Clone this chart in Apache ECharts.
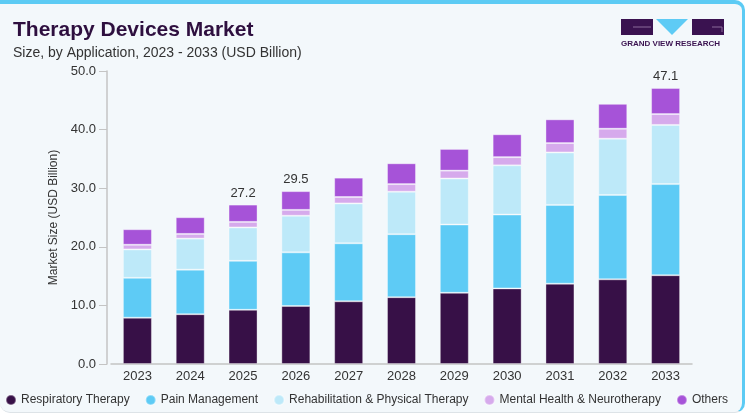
<!DOCTYPE html>
<html>
<head>
<meta charset="utf-8">
<script src="https://cdn.jsdelivr.net/npm/echarts@6/dist/echarts.min.js"></script>
<style>
  html, body { margin: 0; padding: 0; background: #ffffff; }
  .card {
    position: absolute; left: 0; top: 0;
    width: 742px; height: 408px;
    background: #f3f8fb;
    border-top: 4px solid #5ccbf4;
    border-right: 3px solid #5ccbf4;
    border-bottom: 1px solid #dde3e7;
    border-radius: 0 10px 10px 10px;
  }
  #main { position: absolute; left: 0; top: 0; width: 749px; height: 418px; }
</style>
</head>
<body>
<div class="card"></div>
<div id="main"></div>
<script>
// 数据
var years = ['2023', '2024', '2025', '2026', '2027', '2028', '2029', '2030', '2031', '2032', '2033'];
var respiratory = [7.9, 8.5, 9.25, 9.9, 10.7, 11.4, 12.15, 12.9, 13.7, 14.45, 15.15];
var pain = [6.8, 7.6, 8.35, 9.15, 9.9, 10.75, 11.65, 12.6, 13.45, 14.4, 15.55];
var rehab = [4.85, 5.3, 5.7, 6.25, 6.8, 7.25, 7.85, 8.4, 8.95, 9.6, 10.1];
var mental = [0.8, 0.8, 0.95, 1.0, 1.1, 1.3, 1.35, 1.4, 1.6, 1.7, 1.85];
var others = [2.65, 2.85, 2.95, 3.2, 3.3, 3.55, 3.7, 3.9, 4.05, 4.25, 4.45];
var totalLabels = ['', '', '27.2', '29.5', '', '', '', '', '', '', '47.1'];
var yTicks = [0, 10, 20, 30, 40, 50];

var names = ['Respiratory Therapy', 'Pain Management', 'Rehabilitation & Physical Therapy', 'Mental Health & Neurotherapy', 'Others'];
var colors = ['#371047', '#5ecbf5', '#bde9f9', '#d6aaec', '#a653d8'];
var values = [respiratory, pain, rehab, mental, others];

var chart = echarts.init(document.getElementById('main'));
var font = 'Liberation Sans, Arial, sans-serif';

var series = values.map(function (arr, i) {
    var s = {
        name: names[i],
        type: 'bar',
        stack: 'total',
        barWidth: 29,
        data: arr,
        itemStyle: {
            color: colors[i],
            borderColor: 'rgba(255,255,255,0.35)',
            borderWidth: 1
        }
    };
    // 顶部总计标签
    if (i === values.length - 1) {
        s.label = {
            show: true,
            position: 'top',
            distance: 5,
            fontFamily: font,
            fontSize: 13,
            color: '#333',
            formatter: function (p) { return totalLabels[p.dataIndex]; }
        };
    }
    return s;
});

var option = {
    animation: false,
    color: colors,
    textStyle: { fontFamily: font },
    title: {
        text: 'Therapy Devices Market',
        subtext: 'Size, by Application, 2023 - 2033 (USD Billion)',
        left: 8,
        top: 15,
        itemGap: 5,
        textStyle: { fontFamily: font, fontSize: 21, fontWeight: 900, color: '#2e0f3f' },
        subtextStyle: { fontFamily: font, fontSize: 14, color: '#333' }
    },
    legend: {
        left: 0,
        top: 389,
        icon: 'circle',
        itemWidth: 10,
        itemHeight: 10,
        itemGap: 15,
        textStyle: { fontFamily: font, fontSize: 12, color: '#333' },
        data: names
    },
    grid: { left: 111, right: 57, top: 71, bottom: 54 },
    xAxis: {
        type: 'category',
        data: years,
        axisLine: { lineStyle: { color: '#c4c4c4', width: 1.5 } },
        axisTick: { show: false },
        axisLabel: { fontSize: 13, color: '#333', margin: 6 }
    },
    yAxis: {
        type: 'value',
        min: yTicks[0],
        max: yTicks[yTicks.length - 1],
        interval: 10,
        offset: 4,
        name: 'Market Size (USD Billion)',
        nameLocation: 'middle',
        nameGap: 46,
        nameTextStyle: { fontSize: 12, color: '#333' },
        axisLine: { show: true, lineStyle: { color: '#c4c4c4', width: 1.5 } },
        axisTick: { show: true, length: 8, lineStyle: { color: '#c4c4c4' } },
        axisLabel: { fontSize: 13, color: '#333', margin: 11, formatter: function (v) { return v.toFixed(1); } },
        splitLine: { show: false }
    },
    graphic: [
        // logo
        { type: 'rect', shape: { x: 621, y: 19, width: 32, height: 16 }, style: { fill: '#3a1250' } },
        { type: 'line', shape: { x1: 633, y1: 27, x2: 651, y2: 27 }, style: { stroke: '#8a6a9a', lineWidth: 1 } },
        { type: 'polygon', shape: { points: [[656, 19], [688, 19], [672, 35]] }, style: { fill: '#5ecbf5' } },
        { type: 'rect', shape: { x: 692, y: 19, width: 32, height: 16 }, style: { fill: '#3a1250' } },
        { type: 'polyline', shape: { points: [[712, 27], [722, 27], [722, 32]] }, style: { stroke: '#8a6a9a', lineWidth: 1, fill: null } },
        { type: 'text', left: 621, top: 40, style: { text: 'GRAND VIEW RESEARCH', font: 'bold 8px ' + font, fill: '#3a1250' } }
    ],
    series: series
};

chart.setOption(option);
</script>
</body>
</html>
